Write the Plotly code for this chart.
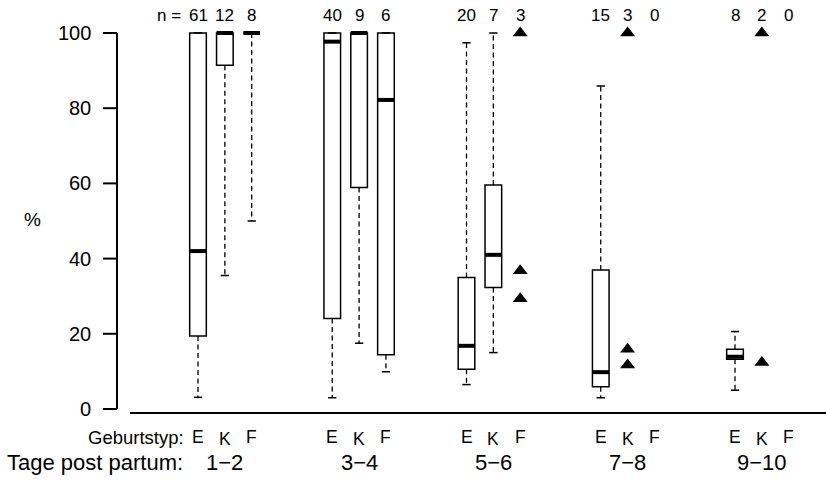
import plotly.graph_objects as go

W, H = 826, 483

# ---- data -----------------------------------------------------------------
periods = ["1−2", "3−4", "5−6", "7−8", "9−10"]
birth_types = ["E", "K", "F"]
n_obs = [[61, 12, 8], [40, 9, 6], [20, 7, 3], [15, 3, 0], [8, 2, 0]]

# boxplot statistics, one entry per drawn box (period index, birth type index)
box_period = [0, 0, 0, 1, 1, 1, 2, 2, 3, 4]
box_type = [0, 1, 2, 0, 1, 2, 0, 1, 0, 0]
whisker_low = [3.1, 35.5, 50.0, 3.0, 17.5, 9.9, 6.5, 15.0, 3.0, 5.0]
q1 = [19.4, 91.4, 100.0, 24.1, 58.9, 14.4, 10.6, 32.3, 5.9, 13.2]
median = [42.0, 100.0, 100.0, 97.7, 100.0, 82.2, 16.8, 41.0, 9.8, 13.9]
q3 = [100.0, 100.0, 100.0, 100.0, 100.0, 100.0, 35.0, 59.6, 37.0, 15.9]
whisker_high = [100.0, 100.0, 100.0, 100.0, 100.0, 100.0, 97.4, 100.0, 85.9, 20.6]

# groups with only a few observations: single values
pt_period = [2, 2, 2, 3, 3, 3, 4, 4]
pt_type = [2, 2, 2, 1, 1, 1, 1, 1]
pt_value = [100.0, 36.8, 29.3, 100.0, 15.9, 11.7, 100.0, 12.4]

y_ticks = [0, 20, 40, 60, 80, 100]

# ---- geometry ---------------------------------------------------------------
UNIT = 26.85        # px per position unit
X0_PX = 198.0       # px of position 1
ZERO_PX = 409.0     # px of y = 0
PPU = 3.76          # px per y unit
BOX_W = 0.62
CAP_W = BOX_W / 2

FONT = "Liberation Sans, Arial, Helvetica, sans-serif"


def pos(period, btype):
    return 5 * period + btype + 1


def xp(px):
    return px / W


def yp(py):
    return 1 - py / H


box_x = [pos(p, t) for p, t in zip(box_period, box_type)]
pt_x = [pos(p, t) for p, t in zip(pt_period, pt_type)]

fig = go.Figure()

# dashed whiskers
wx, wy = [], []
for x, lo, a, b, hi in zip(box_x, whisker_low, q1, q3, whisker_high):
    wx += [x, x, None, x, x, None]
    wy += [a, lo, None, b, hi, None]
fig.add_trace(go.Scatter(x=wx, y=wy, mode="lines",
                         line=dict(color="black", width=1.3, dash="5px,3.5px"),
                         hoverinfo="skip", showlegend=False))

# whisker staples
cx, cy = [], []
for x, lo, hi in zip(box_x, whisker_low, whisker_high):
    cx += [x - CAP_W / 2, x + CAP_W / 2, None, x - CAP_W / 2, x + CAP_W / 2, None]
    cy += [lo, lo, None, hi, hi, None]
fig.add_trace(go.Scatter(x=cx, y=cy, mode="lines",
                         line=dict(color="black", width=1.5),
                         hoverinfo="skip", showlegend=False))

# boxes
fig.add_trace(go.Box(x=box_x, q1=q1, median=median, q3=q3,
                     lowerfence=q1, upperfence=q3, width=BOX_W,
                     whiskerwidth=0, boxpoints=False,
                     fillcolor="white", line=dict(color="black", width=1.5),
                     hoverinfo="skip", showlegend=False))

# thick medians
mx, my = [], []
for x, m in zip(box_x, median):
    mx += [x - BOX_W / 2, x + BOX_W / 2, None]
    my += [m, m, None]
fig.add_trace(go.Scatter(x=mx, y=my, mode="lines",
                         line=dict(color="black", width=4),
                         hoverinfo="skip", showlegend=False))

# single values
fig.add_trace(go.Scatter(x=pt_x, y=pt_value, mode="markers",
                         marker=dict(symbol="triangle-up", size=13, color="black",
                                     line=dict(width=0)),
                         hoverinfo="skip", showlegend=False))

# ---- axes drawn by hand (R style) ----------------------------------------------
shapes = []
shapes.append(dict(type="line", xref="paper", yref="y", x0=xp(117), x1=xp(117),
                   y0=y_ticks[0], y1=y_ticks[-1], line=dict(color="black", width=2)))
for t in y_ticks:
    shapes.append(dict(type="line", xref="paper", yref="y", x0=xp(103), x1=xp(117),
                       y0=t, y1=t, line=dict(color="black", width=2)))
shapes.append(dict(type="line", xref="paper", yref="paper", x0=xp(130), x1=1,
                   y0=yp(413), y1=yp(413), line=dict(color="black", width=2)))

ann = []
for t in y_ticks:
    ann.append(dict(xref="paper", yref="y", x=xp(93), y=t, text=str(t),
                    xanchor="right", yanchor="middle", showarrow=False,
                    font=dict(size=20, color="black", family=FONT)))
ann.append(dict(xref="paper", yref="paper", x=xp(32), y=yp(219), text="%",
                xanchor="center", yanchor="middle", showarrow=False,
                font=dict(size=19, color="black", family=FONT)))

# sample sizes
ann.append(dict(xref="paper", yref="paper", x=xp(183), y=yp(16), text="n =",
                xanchor="right", yanchor="middle", showarrow=False,
                font=dict(size=17, color="black", family=FONT)))
for p, row in enumerate(n_obs):
    for t, n in enumerate(row):
        ann.append(dict(xref="x", yref="paper", x=pos(p, t), y=yp(16), text=str(n),
                        xanchor="center", yanchor="middle", showarrow=False,
                        font=dict(size=17, color="black", family=FONT)))

# birth type row
ann.append(dict(xref="paper", yref="paper", x=xp(186), y=yp(437), text="Geburtstyp:",
                xanchor="right", yanchor="middle", showarrow=False,
                font=dict(size=18.5, color="black", family=FONT)))
for p in range(len(periods)):
    for t, lab in enumerate(birth_types):
        ann.append(dict(xref="x", yref="paper", x=pos(p, t),
                        y=yp(439 if lab == "K" else 437), text=lab,
                        xanchor="center", yanchor="middle", showarrow=False,
                        font=dict(size=17.5, color="black", family=FONT)))

# period row
ann.append(dict(xref="paper", yref="paper", x=xp(5), y=yp(462), text="Tage post partum:",
                xanchor="left", yanchor="middle", showarrow=False,
                font=dict(size=22, color="black", family=FONT)))
for p, lab in enumerate(periods):
    ann.append(dict(xref="x", yref="paper", x=pos(p, 1), y=yp(462), text=lab,
                    xanchor="center", yanchor="middle", showarrow=False,
                    font=dict(size=22, color="black", family=FONT)))

fig.update_layout(
    width=W, height=H,
    margin=dict(l=0, r=0, t=0, b=0),
    paper_bgcolor="white", plot_bgcolor="white",
    showlegend=False,
    xaxis=dict(range=[1 - X0_PX / UNIT, 1 + (W - X0_PX) / UNIT], visible=False,
               fixedrange=True),
    yaxis=dict(range=[-(H - ZERO_PX) / PPU, ZERO_PX / PPU], visible=False,
               fixedrange=True),
    shapes=shapes,
    annotations=ann,
)

fig.write_html("out.html")
